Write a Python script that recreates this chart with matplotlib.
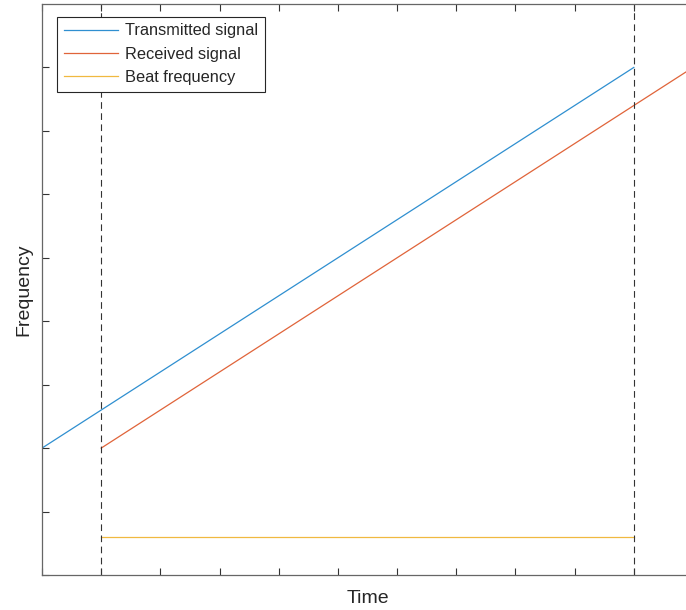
import matplotlib

matplotlib.use("Agg")
import matplotlib.pyplot as plt
import numpy as np

plt.rcParams["font.family"] = ["Liberation Sans", "DejaVu Sans"]

# FMCW chirp: transmitted ramp, delayed received ramp, constant beat
t_tx = np.array([0.0, 10.0])
f_tx = np.array([2.0, 8.0])
t_rx = np.array([1.0, 11.0])
f_rx = np.array([2.0, 8.0])
t_beat = np.array([1.0, 10.0])
f_beat = np.array([0.6, 0.6])
marker_times = [1.0, 10.0]

fig = plt.figure(figsize=(6.86, 6.10), dpi=100)
ax = fig.add_axes([42 / 686, 35 / 610, 651 / 686, 571 / 610])

ax.plot(t_tx, f_tx, color="#2f8fd0", lw=0.9, label="Transmitted signal")
ax.plot(t_rx, f_rx, color="#e0643a", lw=0.9, label="Received signal")
ax.plot(t_beat, f_beat, color="#f0b940", lw=0.9, label="Beat frequency")
for t in marker_times:
    ax.axvline(t, color="#333333", ls=(0, (6, 4)), lw=0.8)

ax.set_xlim(0, 11)
ax.set_ylim(0, 9)
ax.set_xticks(np.arange(0, 11))
ax.set_yticks(np.arange(0, 9))
ax.tick_params(direction="in", top=True, right=True, length=5,
               color="#333333", labelbottom=False, labelleft=False)
for s in ax.spines.values():
    s.set_color("#666666")
    s.set_linewidth(0.9)

ax.set_xlabel("Time", fontsize=14, labelpad=11, color="#262626")
ax.set_ylabel("Frequency", fontsize=14, labelpad=7, color="#262626")

leg = ax.legend(loc="upper left", bbox_to_anchor=(0.0235, 0.978), fontsize=11.8,
                fancybox=False, edgecolor="#262626", framealpha=1,
                handlelength=3.3, borderpad=0.42, labelspacing=0.5,
                handletextpad=0.4, borderaxespad=0)
leg.get_frame().set_linewidth(0.8)
for txt in leg.get_texts():
    txt.set_color("#262626")

fig.savefig("out.png", dpi=100)
